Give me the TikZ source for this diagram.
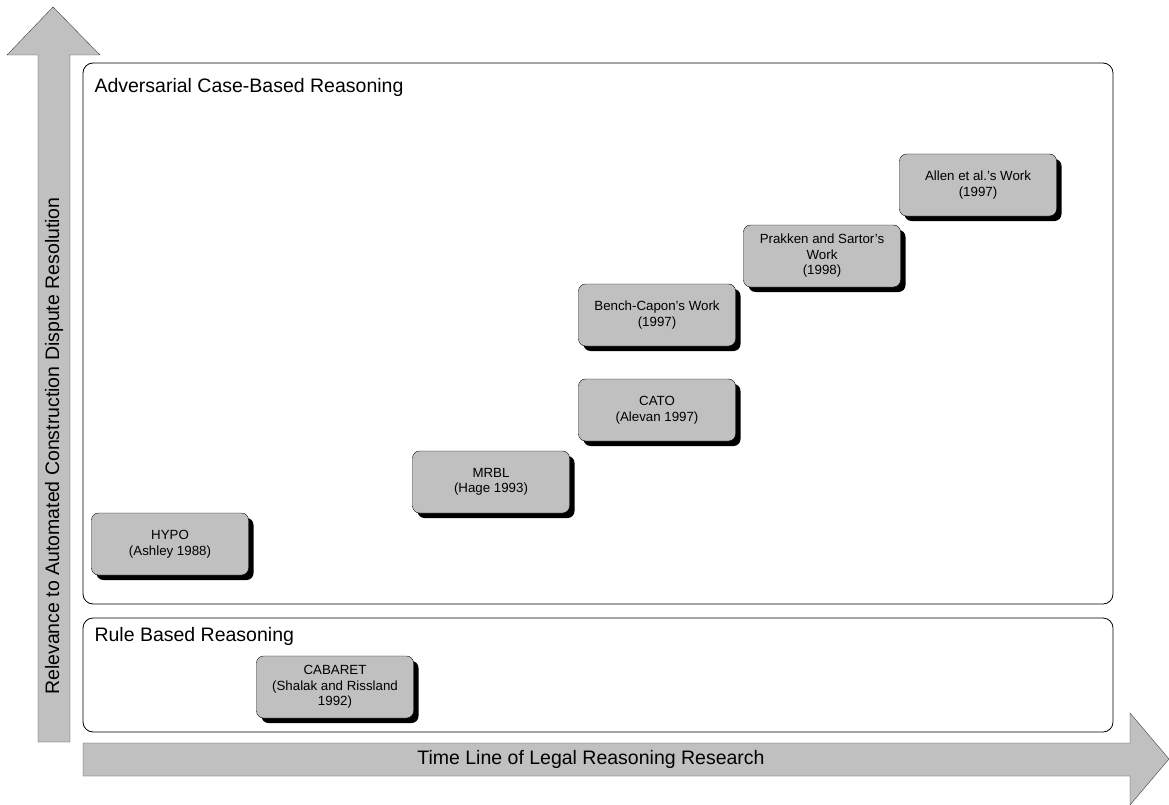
\documentclass[tikz,border=0pt]{standalone}
\usepackage{fontspec}
\setmainfont{Liberation Sans}
\definecolor{ArrowGray}{HTML}{C0C0C0}
\definecolor{EdgeGray}{HTML}{404040}
\usepackage{tikz}
\usetikzlibrary{shadows}

\begin{document}
\begin{tikzpicture}[x=1pt, y=-1pt,
    work/.style={draw=black, fill=ArrowGray, rounded corners=7pt, minimum width=157pt, minimum height=62pt,
      align=center, font=\fontsize{13.3}{15.5}\selectfont, inner sep=2pt,
      drop shadow={shadow xshift=5pt, shadow yshift=-5pt, fill=black, opacity=1}},
    frame/.style={draw=black, thick, rounded corners=10pt},
    bigarrow/.style={draw=EdgeGray, fill=ArrowGray}]
  \useasboundingbox (0,0) rectangle (1169,805);
  % axes
  \draw[bigarrow] (38,742) -- (38,55) -- (7,55) -- (53,7) -- (100,55) -- (70,55) -- (70,742) -- cycle;
  \draw[bigarrow] (83,743) -- (1130,743) -- (1130,713) -- (1169,759) -- (1130,805) -- (1130,776) -- (83,776) -- cycle;
  \node[rotate=90, font=\fontsize{19.5}{22}\selectfont] (yaxis) at (54,446) {Relevance to Automated Construction Dispute Resolution};
  \node[font=\fontsize{19.5}{22}\selectfont] (xaxis) at (591,759) {Time Line of Legal Reasoning Research};
  % groups
  \draw[frame] (83,63) rectangle (1113,604);
  \draw[frame] (83,618) rectangle (1113,732);
  \node[anchor=west, font=\fontsize{19.5}{22}\selectfont] (acbr) at (91,87) {Adversarial Case-Based Reasoning};
  \node[anchor=west, font=\fontsize{19.5}{22}\selectfont] (rbr) at (91,636) {Rule Based Reasoning};
  % systems
  \node[work] (hypo) at (170,544) {HYPO\\(Ashley 1988)};
  \node[work] (cabaret) at (335,687) {CABARET\\(Shalak and Rissland\\1992)};
  \node[work] (mrbl) at (491,482) {MRBL\\(Hage 1993)};
  \node[work] (cato) at (657,410) {CATO\\(Alevan 1997)};
  \node[work] (bench) at (657,315) {Bench-Capon's Work\\(1997)};
  \node[work] (prakken) at (822,256) {Prakken and Sartor's\\Work\\(1998)};
  \node[work] (allen) at (978,185) {Allen et al.'s Work\\(1997)};
\end{tikzpicture}
\end{document}
